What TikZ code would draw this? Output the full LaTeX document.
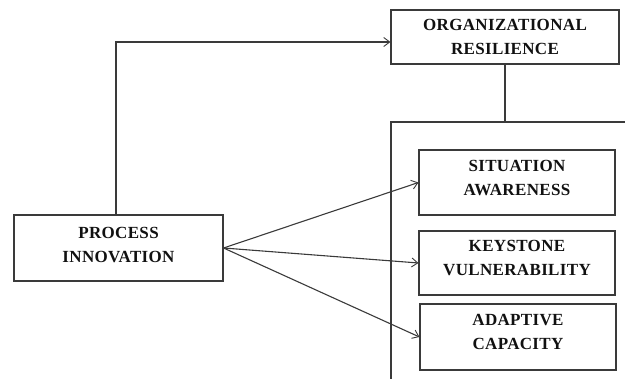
\documentclass[tikz,border=0pt]{standalone}
\usepackage{fontspec}
\setmainfont{Liberation Serif}
\usepackage{tikz}
\usetikzlibrary{calc,arrows.meta}
\definecolor{frame}{HTML}{3A3A3A}
\definecolor{ink}{HTML}{111111}
\tikzset{
  box/.style={draw=frame, line width=1.1pt, rectangle, align=center, inner sep=0pt,
    font=\fontsize{17}{24}\selectfont\bfseries\addfontfeatures{LetterSpace=2}, text=ink},
  dimbox/.style={box, minimum width=196pt, text depth=10pt},
  link/.style={draw=frame, line width=1.1pt},
  arr/.style={link, -{Straight Barb[length=6pt, width=9pt, line width=0.9pt]}}
}

\begin{document}
\begin{tikzpicture}[x=1pt, y=-1pt]
  \useasboundingbox (0,0) rectangle (625,379);

  \node[box, minimum width=228pt, minimum height=54pt] (org) at (505,37) {ORGANIZATIONAL\\RESILIENCE};
  \node[box, minimum width=209pt, minimum height=66pt, text depth=6pt] (proc) at (118.5,248) {PROCESS\\INNOVATION};
  \node[dimbox, minimum height=65pt] (sit) at (517,182.5) {SITUATION\\AWARENESS};
  \node[dimbox, minimum height=64pt] (key) at (517,263) {KEYSTONE\\VULNERABILITY};
  \node[dimbox, minimum height=66pt] (ada) at (518,337) {ADAPTIVE\\CAPACITY};

  % open frame holding the three dimensions
  \coordinate (grp) at (org.south |- 0,122);
  \draw[link] (625,122) -- (391,122) -- (391,379);
  \draw[link] (org.south) -- (grp);

  \draw[arr] (proc.north -| 116,0) -- (116,42) -- ($(org.west)+(0,5)$);
  \draw[arr] (proc.east) -- (sit.west);
  \draw[arr] (proc.east) -- (key.west);
  \draw[arr] (proc.east) -- (ada.west);
\end{tikzpicture}
\end{document}
